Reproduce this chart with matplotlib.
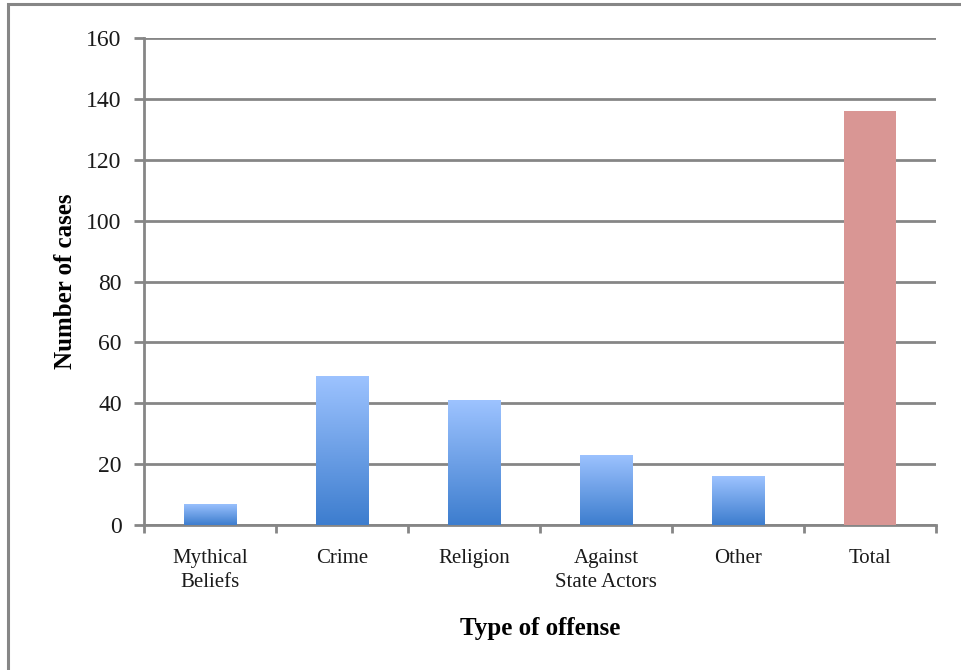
import numpy as np
import matplotlib.pyplot as plt
from matplotlib.patches import Rectangle
from matplotlib.colors import LinearSegmentedColormap

# offense categories and case counts
categories = ['Mythical\nBeliefs', 'Crime', 'Religion', 'Against\nState Actors', 'Other', 'Total']
cases = [7, 49, 41, 23, 16, 136]
y_ticks = [0, 20, 40, 60, 80, 100, 120, 140, 160]

plt.rcParams['font.family'] = ['Liberation Serif', 'DejaVu Serif']
grey = '#868686'

fig = plt.figure(figsize=(9.61, 6.70), dpi=100)
ax = fig.add_axes([144/961, 1 - 525/670, (936-144)/961, (525-38)/670])

# outer chart frame
fig.patches.append(Rectangle((8/961, -0.05), 1.2, 1 - 4/670 + 0.05, transform=fig.transFigure,
                             fill=False, edgecolor=grey, linewidth=2.2))

x = np.arange(len(categories))
bars = ax.bar(x, cases, width=0.4, zorder=3)

blue_grad = LinearSegmentedColormap.from_list('blue_grad', ['#3D7DCE', '#9DC3FF'])
grad = np.linspace(0, 1, 256).reshape(-1, 1)
for i, b in enumerate(bars):
    if categories[i] == 'Total':
        b.set_facecolor('#D99694')
        b.set_edgecolor('none')
        continue
    b.set_facecolor('none')
    b.set_edgecolor('none')
    x0, w, h = b.get_x(), b.get_width(), b.get_height()
    im = ax.imshow(grad, cmap=blue_grad, aspect='auto', origin='lower',
                   extent=[x0, x0 + w, 0, h], zorder=3)
    im.set_clip_path(b)

ax.set_xlim(-0.5, len(categories) - 0.5)
ax.set_ylim(0, 160)
ax.set_yticks(y_ticks)
ax.yaxis.grid(True, color=grey, linewidth=2, zorder=0)
ax.set_axisbelow(True)

ax.set_xticks(x)
ax.set_xticklabels(categories, fontsize=15, color='#1a1a1a', linespacing=1.35)
ax.set_xticks(np.arange(len(categories) + 1) - 0.5, minor=True)
ax.tick_params(axis='x', which='major', length=0, pad=17)
ax.tick_params(axis='x', which='minor', length=6, width=2, color=grey, direction='out')
ax.tick_params(axis='y', length=7, width=2, color=grey, labelsize=17, pad=9,
               labelcolor='#1a1a1a')

for side in ['top', 'right']:
    ax.spines[side].set_visible(False)
for side in ['left', 'bottom']:
    ax.spines[side].set_color(grey)
    ax.spines[side].set_linewidth(2)

ax.set_xlabel('Type of offense', fontsize=18, fontweight='bold', labelpad=18)
ax.set_ylabel('Number of cases', fontsize=18, fontweight='bold', labelpad=7)

fig.savefig('out.png', dpi=100, facecolor='white')
